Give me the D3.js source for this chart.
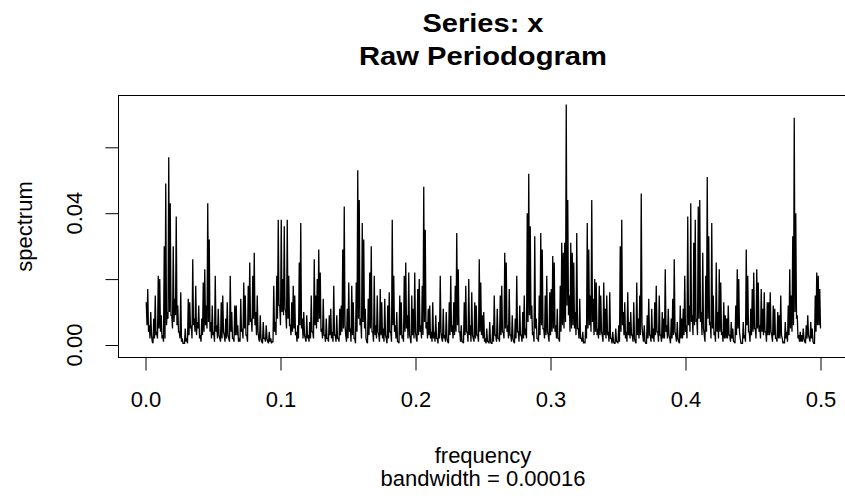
<!DOCTYPE html>
<html><head><meta charset="utf-8">
<script src="https://cdn.jsdelivr.net/npm/d3@7"></script>
<style>body{margin:0;background:#fff} svg text{font-family:"Liberation Sans",Arial,sans-serif;fill:#000}</style>
</head><body><svg id="c" width="845" height="500"></svg>
<script>
// Raw periodogram values, in frequency order (0 -> 0.5).
// specA* : values at odd Fourier frequencies; specB* : values at the even
// Fourier frequencies that follow them (the bottoms of the vertical strokes).
const specA1 = [0.013,0.017,0.006,0.010,0.001,0.008,0.015,0.004,0.021,0.020,0.009,0.003,0.030,0.049,0.010,0.057,0.043,0.009,0.030,0.014,0.039,0.012,0.004,0.016,0.002,0.0005,0.005,0.002,0.014,0.013,0.006,0.026,0.008,0.018,0.007,0.012,0.003,0.008,0.019,0.023,0.012,0.043,0.032,0.007,0.012,0.004,0.021,0.006,0.011,0.002,0.013,0.015,0.003,0.008,0.013,0.002,0.021,0.010,0.002,0.012];
const specB1 = [0.006,0.004,0.002,0.003,0.0005,0.002,0.003,0.002,0.005,0.004,0.002,0.001,0.002,0.006,0.008,0.010,0.009,0.005,0.007,0.009,0.006,0.004,0.002,0.001,0.0005,0.0005,0.001,0.0005,0.003,0.005,0.002,0.006,0.004,0.003,0.005,0.002,0.001,0.003,0.004,0.006,0.005,0.007,0.004,0.002,0.003,0.001,0.004,0.002,0.003,0.001,0.002,0.004,0.001,0.002,0.003,0.001,0.004,0.002,0.001,0.003];
const specA2 = [0.012,0.006,0.002,0.014,0.005,0.019,0.015,0.003,0.018,0.025,0.008,0.021,0.028,0.010,0.015,0.002,0.009,0.001,0.007,0.002,0.006,0.001,0.004,0.002,0.001,0.018,0.007,0.021,0.038,0.012,0.038,0.020,0.036,0.010,0.038,0.021,0.006,0.013,0.018,0.015,0.004,0.006,0.025,0.037,0.008,0.010,0.002,0.009,0.003,0.007,0.015,0.004,0.026,0.015,0.020,0.029,0.022,0.005,0.014,0.003,0.008,0.002,0.009,0.011,0.004];
const specB2 = [0.003,0.001,0.001,0.004,0.002,0.005,0.003,0.001,0.006,0.007,0.004,0.008,0.006,0.003,0.004,0.001,0.002,0.0005,0.002,0.001,0.002,0.0005,0.001,0.0005,0.001,0.004,0.003,0.008,0.012,0.006,0.010,0.009,0.011,0.005,0.008,0.006,0.003,0.004,0.005,0.003,0.001,0.002,0.006,0.005,0.002,0.003,0.001,0.002,0.001,0.002,0.004,0.002,0.006,0.005,0.007,0.008,0.004,0.002,0.003,0.001,0.002,0.001,0.003,0.002,0.001];
const specA3 = [0.018,0.003,0.009,0.002,0.011,0.012,0.029,0.042,0.003,0.011,0.019,0.005,0.018,0.013,0.002,0.019,0.053,0.044,0.008,0.037,0.032,0.011,0.001,0.014,0.022,0.030,0.004,0.021,0.006,0.015,0.003,0.017,0.013,0.005,0.014,0.002,0.012,0.016,0.004,0.038,0.021,0.006,0.010,0.001,0.015,0.013,0.003,0.021,0.025,0.009,0.022,0.002,0.015,0.011,0.022,0.002,0.017,0.020,0.006,0.018,0.048,0.035,0.007,0.011,0.012,0.004];
const specB3 = [0.003,0.001,0.002,0.001,0.003,0.004,0.005,0.006,0.001,0.002,0.004,0.001,0.003,0.002,0.0005,0.004,0.008,0.006,0.002,0.007,0.005,0.002,0.0005,0.003,0.005,0.004,0.001,0.003,0.002,0.004,0.001,0.003,0.002,0.001,0.003,0.0005,0.002,0.004,0.001,0.006,0.004,0.002,0.001,0.0005,0.003,0.002,0.001,0.004,0.005,0.002,0.003,0.0005,0.003,0.002,0.004,0.001,0.003,0.004,0.002,0.003,0.007,0.005,0.002,0.003,0.002,0.001];
const specA4 = [0.013,0.004,0.009,0.002,0.007,0.021,0.002,0.011,0.003,0.010,0.001,0.013,0.021,0.006,0.013,0.018,0.034,0.023,0.004,0.006,0.001,0.013,0.018,0.004,0.020,0.006,0.016,0.002,0.013,0.012,0.003,0.026,0.019,0.009,0.010,0.002,0.005,0.001,0.007,0.0005,0.006,0.015,0.003,0.011,0.002,0.015,0.018,0.004,0.028,0.025,0.006,0.017,0.003,0.009,0.001,0.008,0.021,0.004,0.012,0.003,0.010,0.015,0.005,0.040,0.052];
const specB4 = [0.002,0.001,0.002,0.0005,0.002,0.004,0.001,0.002,0.001,0.002,0.0005,0.003,0.004,0.002,0.003,0.004,0.006,0.004,0.001,0.001,0.0005,0.003,0.004,0.001,0.003,0.001,0.003,0.001,0.002,0.003,0.001,0.004,0.003,0.002,0.001,0.0005,0.001,0.0005,0.001,0.0005,0.001,0.003,0.001,0.002,0.001,0.003,0.004,0.002,0.005,0.004,0.002,0.003,0.001,0.002,0.0005,0.002,0.004,0.001,0.003,0.001,0.002,0.003,0.002,0.007,0.009];
const specA5 = [0.036,0.012,0.004,0.033,0.008,0.002,0.015,0.034,0.029,0.005,0.015,0.021,0.003,0.016,0.017,0.027,0.025,0.006,0.011,0.002,0.018,0.031,0.028,0.031,0.073,0.044,0.015,0.031,0.028,0.025,0.010,0.034,0.005,0.014,0.002,0.004,0.001,0.006,0.037,0.029,0.015,0.044,0.014,0.020,0.019,0.005,0.018,0.015,0.003,0.019,0.011,0.015,0.004,0.016,0.002,0.004,0.0005,0.005,0.001,0.006,0.030,0.038,0.010,0.013,0.004];
const specB5 = [0.008,0.003,0.001,0.005,0.002,0.001,0.003,0.006,0.005,0.002,0.003,0.004,0.001,0.003,0.004,0.005,0.004,0.002,0.002,0.001,0.004,0.006,0.005,0.007,0.012,0.009,0.004,0.005,0.006,0.005,0.003,0.005,0.002,0.002,0.001,0.0005,0.0005,0.002,0.005,0.006,0.004,0.007,0.003,0.004,0.003,0.002,0.003,0.004,0.001,0.003,0.002,0.003,0.001,0.002,0.0005,0.001,0.0005,0.001,0.0005,0.001,0.004,0.006,0.003,0.002,0.001];
const specA6 = [0.016,0.007,0.010,0.003,0.013,0.001,0.019,0.008,0.015,0.046,0.003,0.006,0.0005,0.009,0.014,0.003,0.011,0.005,0.013,0.018,0.004,0.015,0.003,0.010,0.008,0.023,0.006,0.011,0.002,0.008,0.014,0.026,0.003,0.007,0.001,0.012,0.008,0.011,0.021,0.006,0.039,0.012,0.043,0.009,0.031,0.038,0.008,0.042,0.044,0.010,0.028,0.003,0.021,0.051,0.033,0.007,0.037,0.015,0.004,0.025,0.010,0.023,0.019,0.004,0.013,0.009];
const specB6 = [0.003,0.002,0.003,0.001,0.002,0.0005,0.003,0.002,0.003,0.006,0.001,0.001,0.0005,0.002,0.003,0.001,0.002,0.001,0.003,0.004,0.001,0.003,0.001,0.002,0.002,0.004,0.002,0.003,0.0005,0.002,0.003,0.004,0.001,0.002,0.0005,0.002,0.002,0.003,0.004,0.002,0.006,0.004,0.007,0.003,0.006,0.007,0.003,0.008,0.007,0.003,0.005,0.001,0.004,0.008,0.006,0.002,0.005,0.003,0.001,0.004,0.002,0.004,0.003,0.001,0.002,0.002];
const specA7 = [0.008,0.012,0.003,0.007,0.005,0.001,0.012,0.023,0.020,0.002,0.0005,0.007,0.003,0.029,0.021,0.004,0.011,0.017,0.022,0.005,0.023,0.019,0.006,0.017,0.011,0.016,0.004,0.013,0.013,0.016,0.003,0.012,0.011,0.002,0.010,0.009,0.015,0.002,0.001,0.007,0.004,0.012,0.023,0.015,0.033,0.069,0.040,0.009,0.003,0.004,0.003,0.005,0.001,0.006,0.009,0.002,0.007,0.005,0.0005,0.015,0.022,0.021,0.017];
const specB7 = [0.002,0.003,0.001,0.002,0.001,0.0005,0.003,0.005,0.004,0.0005,0.0005,0.002,0.001,0.006,0.004,0.001,0.003,0.004,0.005,0.002,0.005,0.004,0.002,0.004,0.003,0.004,0.001,0.003,0.003,0.004,0.001,0.003,0.002,0.001,0.002,0.002,0.003,0.0005,0.0005,0.002,0.001,0.003,0.005,0.004,0.006,0.010,0.008,0.002,0.001,0.001,0.001,0.002,0.0005,0.002,0.003,0.001,0.002,0.001,0.0005,0.004,0.006,0.006,0.005];

const xTicks = [0, 0.1, 0.2, 0.3, 0.4, 0.5];
const xTickLabels = ["0.0", "0.1", "0.2", "0.3", "0.4", "0.5"];
const yTicks = [0, 0.02, 0.04, 0.06];
const yTickLabels = ["0.00", "", "0.04", ""];
const titleLines = ["Series: x", "Raw Periodogram"];
const xLabel = "frequency";
const subLabel = "bandwidth = 0.00016";
const yLabel = "spectrum";

const pairs = [[specA1, specB1], [specA2, specB2], [specA3, specB3], [specA4, specB4],
               [specA5, specB5], [specA6, specB6], [specA7, specB7]];
const spectrum = pairs.flatMap(([a, b]) => a.flatMap((v, k) => [v, b[k]]));
const n = spectrum.length;
const data = spectrum.map((v, i) => ({ f: (i + 1) / (2 * n), s: v }));

const svg = d3.select("#c");
const L = 118.5, R = 847.5, T = 95.5, B = 357.5;
const x = d3.scaleLinear().domain([-0.02, 0.52]).range([L, R]);
const y = d3.scaleLinear().domain([0, 0.06]).range([345, 147.3]);

// periodogram line
svg.append("path")
  .datum(data)
  .attr("fill", "none")
  .attr("stroke", "#000")
  .attr("stroke-width", 1.3)
  .attr("stroke-linejoin", "miter")
  .attr("stroke-miterlimit", 2)
  .attr("d", d3.line().x(d => x(d.f)).y(d => y(d.s)));

// box
svg.append("rect").attr("x", L).attr("y", T).attr("width", R - L).attr("height", B - T)
  .attr("fill", "none").attr("stroke", "#000").attr("stroke-width", 1);

// x axis
const gx = svg.append("g").attr("transform", `translate(0,${B})`)
  .call(d3.axisBottom(x).tickValues(xTicks).tickSize(13).tickSizeOuter(0)
    .tickFormat((d, i) => xTickLabels[i]));
gx.select(".domain").remove();
gx.selectAll(".tick line").attr("stroke", "#000");
gx.selectAll(".tick text").attr("y", 407 - B).attr("dy", null)
  .attr("font-size", 22).attr("font-family", null).attr("fill", "#000");

// y axis
const gy = svg.append("g").attr("transform", `translate(${L},0)`)
  .call(d3.axisLeft(y).tickValues(yTicks).tickSize(13).tickSizeOuter(0).tickFormat(() => ""));
gy.select(".domain").remove();
gy.selectAll(".tick line").attr("stroke", "#000");
gy.selectAll(".tick text").remove();
yTicks.forEach((v, i) => {
  if (!yTickLabels[i]) return;
  svg.append("text").attr("transform", `translate(82,${y(v)}) rotate(-90)`)
    .attr("text-anchor", "middle").attr("font-size", 22).text(yTickLabels[i]);
});

// titles
svg.append("text").attr("x", 483).attr("y", 32).attr("text-anchor", "middle")
  .attr("font-size", 26).attr("font-weight", "bold")
  .attr("textLength", 121).attr("lengthAdjust", "spacingAndGlyphs").text(titleLines[0]);
svg.append("text").attr("x", 483).attr("y", 65).attr("text-anchor", "middle")
  .attr("font-size", 26).attr("font-weight", "bold")
  .attr("textLength", 248).attr("lengthAdjust", "spacingAndGlyphs").text(titleLines[1]);

// axis labels
svg.append("text").attr("x", 483).attr("y", 463).attr("text-anchor", "middle")
  .attr("font-size", 22).text(xLabel);
svg.append("text").attr("x", 483).attr("y", 486).attr("text-anchor", "middle")
  .attr("font-size", 22).text(subLabel);
svg.append("text").attr("transform", `translate(32,${(T + B) / 2}) rotate(-90)`)
  .attr("text-anchor", "middle").attr("font-size", 22).text(yLabel);
</script></body></html>
